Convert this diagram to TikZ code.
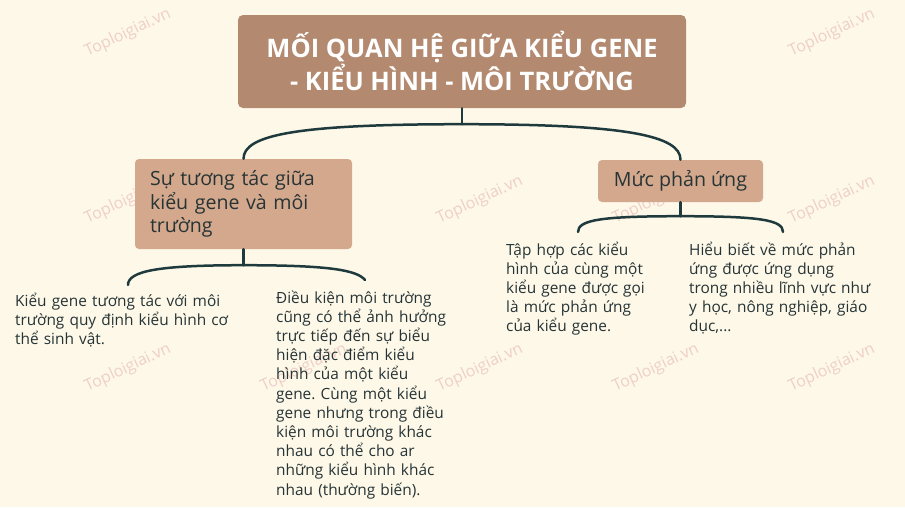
\documentclass[tikz,border=0pt]{standalone}
\usepackage{fontspec}
\setmainfont{Open Sans}
\frenchspacing
\definecolor{bgc}{HTML}{FDF8E8}
\definecolor{titlec}{HTML}{B38A70}
\definecolor{subc}{HTML}{D4A88C}
\definecolor{linec}{HTML}{1F3A3C}
\definecolor{txtc}{HTML}{263436}
\definecolor{wmc}{HTML}{EFCFC8}
\tikzset{
  titlebox/.style={fill=titlec, rounded corners=5pt, inner sep=0pt, text=white, align=center,
    font=\bfseries\fontsize{25.5}{30}\selectfont},
  subbox/.style={fill=subc, rounded corners=4pt, inner sep=0pt, text=txtc,
    font=\fontsize{19.6}{23.5}\selectfont},
  leaf/.style={anchor=base west, inner sep=0pt, text=txtc, text width=260pt, align=left,
    font=\fontsize{15.4}{19.2}\selectfont},
  conn/.style={draw=linec, line width=2.5pt, line cap=round},
  wm/.style={text=wmc, rotate=25, font=\fontsize{16}{18}\selectfont, inner sep=0pt}
}
\begin{document}
\begin{tikzpicture}[x=1pt,y=-1pt]
\fill[bgc] (0,0) rectangle (905,507);
\useasboundingbox (0,0) rectangle (905,507);
% watermarks (those left visible)
\foreach \wx/\wy in {128/33,832/33,128/200,480/200,656/200,832/200,128/368,304/368,480/368,656/368,832/368}{
  \node[wm] (wm-\wx-\wy) at (\wx,\wy) {Toploigiai.vn};
}
% boxes
\node[titlebox, minimum width=448pt, minimum height=93pt] (title) at (462,61.5)
  {\raisebox{2pt}{MỐI QUAN HỆ GIỮA KIỂU GENE}\\\raisebox{2pt}{- KIỂU HÌNH - MÔI TRƯỜNG}};
\node[subbox, minimum width=217pt, minimum height=90pt, text width=187pt, align=left] (lbox) at (243.5,204)
  {Sự tương tác giữa\\kiểu gene và môi\\trường};
\node[subbox, minimum width=165pt, minimum height=42pt] (rbox) at (680.5,181) {Mức phản ứng};
% leaves
\node[leaf] (leafA) at (15,306) {Kiểu gene tương tác với môi\\trường quy định kiểu hình cơ\\thể sinh vật.};
\node[leaf] (leafB) at (276,303) {Điều kiện môi trường\\cũng có thể ảnh hưởng\\trực tiếp đến sự biểu\\hiện đặc điểm kiểu\\hình của một kiểu\\gene. Cùng một kiểu\\gene nhưng trong điều\\kiện môi trường khác\\nhau có thể cho ar\\những kiểu hình khác\\nhau (thường biến).};
\node[leaf] (leafC) at (506,255) {Tập hợp các kiểu\\hình của cùng một\\kiểu gene được gọi\\là mức phản ứng\\của kiểu gene.};
\node[leaf] (leafD) at (689,255) {Hiểu biết về mức phản\\ứng được ứng dụng\\trong nhiều lĩnh vực như\\y học, nông nghiệp, giáo\\dục,...};
% connectors
\draw[conn] (title.south) -- ++(0,16) coordinate (tj);
\draw[conn] (tj) .. controls +(-165,0) and +(0,-24) .. (lbox.north);
\draw[conn] (tj) .. controls +(165,0) and +(0,-24) .. (rbox.north);
\coordinate (lA) at (128,285);
\coordinate (lB) at (365,280);
\draw[conn] (lbox.south) -- ++(0,16) coordinate (lj);
\draw[conn] (lj) .. controls +(-85,0) and +(0,-14) .. (lA);
\draw[conn] (lj) .. controls +(85,0) and +(-8,-10) .. (lB);
\coordinate (rA) at (578,232);
\coordinate (rB) at (783,232);
\draw[conn] (rbox.south) -- ++(0,14) coordinate (rj);
\draw[conn] (rj) .. controls +(-80,0) and +(0,-12) .. (rA);
\draw[conn] (rj) .. controls +(80,0) and +(0,-12) .. (rB);
\end{tikzpicture}
\end{document}
